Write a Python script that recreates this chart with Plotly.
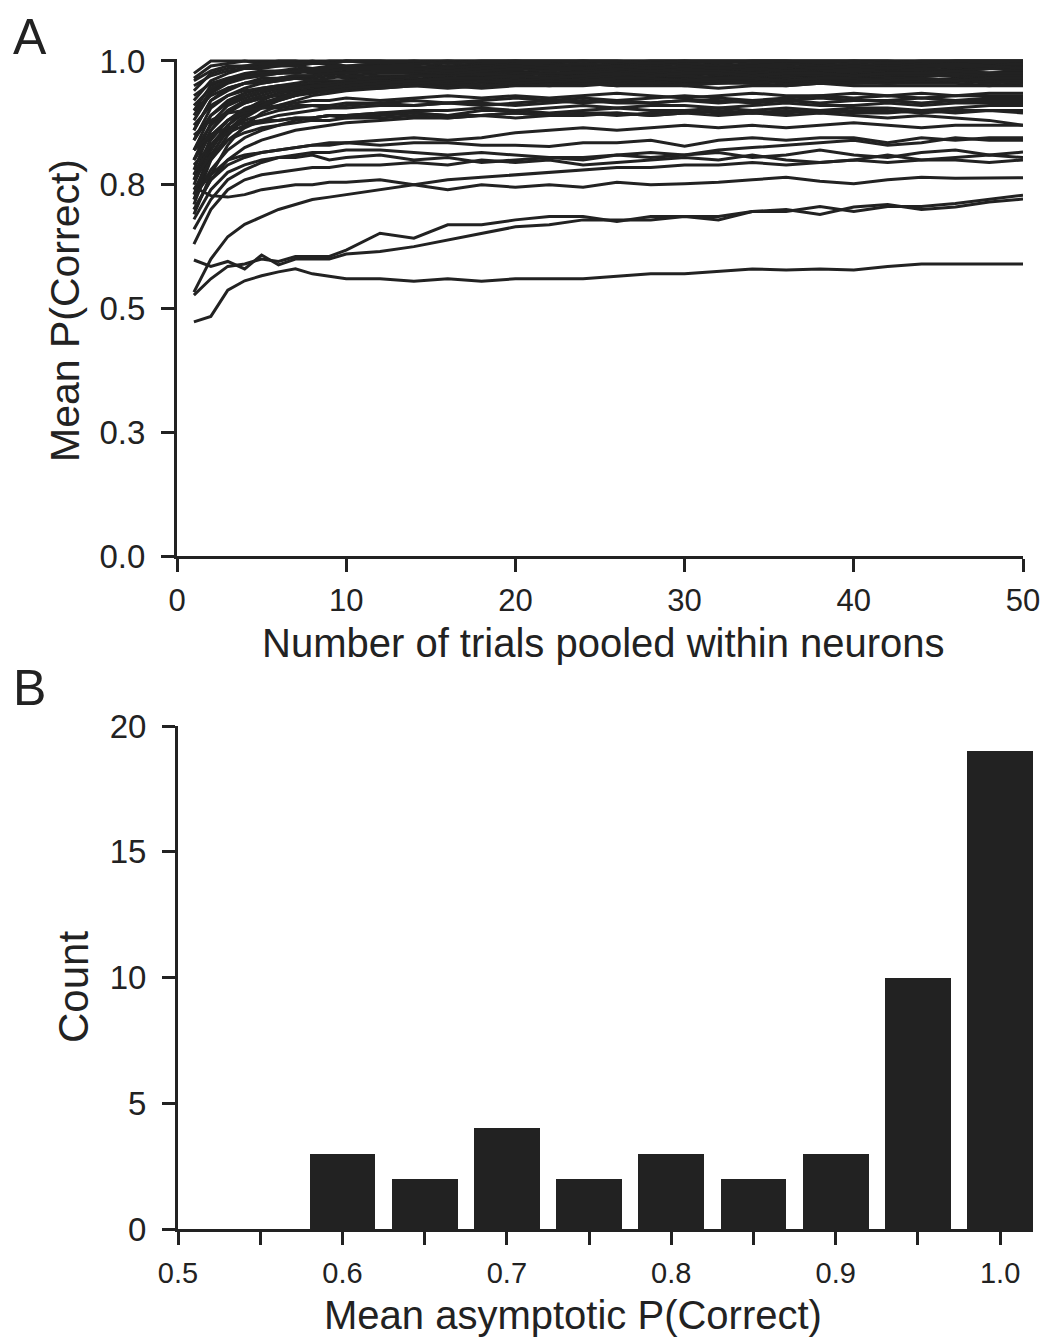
import plotly.graph_objects as go

# ---------------- Panel A data ----------------
X = [1, 2, 3, 4, 5, 6, 7, 8, 9, 10, 12, 14, 16, 18, 20, 22, 24, 26, 28, 30,
     32, 34, 36, 38, 40, 42, 44, 46, 48, 50]

t01 = [0.975, 1.0, 1.0, 1.0, 1.0, 1.0, 1.0, 1.0, 1.0, 1.0, 1.0, 1.0, 1.0, 1.0, 1.0, 1.0, 1.0, 1.0, 1.0, 1.0, 1.0, 1.0, 1.0, 1.0, 1.0, 1.0, 1.0, 1.0, 1.0, 1.0]
t02 = [0.965, 0.99, 0.995, 1.0, 0.995, 1.0, 1.0, 0.995, 1.0, 1.0, 1.0, 0.995, 1.0, 1.0, 1.0, 0.995, 1.0, 1.0, 1.0, 1.0, 0.995, 1.0, 1.0, 1.0, 1.0, 1.0, 0.995, 1.0, 1.0, 1.0]
t03 = [0.94, 0.975, 0.985, 0.99, 0.99, 0.995, 0.99, 0.995, 0.995, 0.99, 0.995, 0.995, 0.99, 0.995, 0.995, 0.995, 0.99, 0.995, 0.995, 0.995, 0.99, 0.995, 0.995, 0.995, 0.99, 0.995, 0.995, 0.995, 0.995, 0.995]
t04 = [0.92, 0.96, 0.975, 0.985, 0.985, 0.99, 0.99, 0.985, 0.99, 0.99, 0.99, 0.985, 0.99, 0.99, 0.985, 0.99, 0.99, 0.99, 0.985, 0.99, 0.99, 0.99, 0.985, 0.99, 0.99, 0.99, 0.99, 0.985, 0.99, 0.99]
t05 = [0.90, 0.95, 0.965, 0.975, 0.98, 0.98, 0.985, 0.98, 0.985, 0.985, 0.98, 0.985, 0.985, 0.98, 0.985, 0.985, 0.98, 0.985, 0.985, 0.985, 0.98, 0.985, 0.985, 0.98, 0.985, 0.985, 0.985, 0.98, 0.985, 0.985]
t06 = [0.88, 0.935, 0.955, 0.965, 0.97, 0.975, 0.975, 0.98, 0.975, 0.98, 0.98, 0.975, 0.98, 0.98, 0.98, 0.975, 0.98, 0.98, 0.975, 0.98, 0.98, 0.98, 0.98, 0.975, 0.98, 0.98, 0.98, 0.98, 0.975, 0.98]
t07 = [0.86, 0.92, 0.945, 0.955, 0.965, 0.965, 0.97, 0.97, 0.975, 0.97, 0.975, 0.975, 0.97, 0.975, 0.975, 0.975, 0.97, 0.975, 0.975, 0.975, 0.975, 0.97, 0.975, 0.975, 0.975, 0.97, 0.975, 0.975, 0.975, 0.975]
t08 = [0.84, 0.905, 0.93, 0.945, 0.955, 0.96, 0.965, 0.965, 0.97, 0.965, 0.97, 0.97, 0.965, 0.97, 0.97, 0.965, 0.97, 0.97, 0.97, 0.965, 0.97, 0.97, 0.97, 0.97, 0.965, 0.97, 0.97, 0.97, 0.97, 0.97]
t09 = [0.82, 0.89, 0.92, 0.935, 0.945, 0.95, 0.955, 0.96, 0.96, 0.96, 0.965, 0.96, 0.965, 0.965, 0.96, 0.965, 0.965, 0.965, 0.96, 0.965, 0.965, 0.96, 0.965, 0.965, 0.965, 0.965, 0.96, 0.965, 0.965, 0.965]
t10 = [0.80, 0.875, 0.91, 0.925, 0.935, 0.945, 0.95, 0.955, 0.955, 0.955, 0.96, 0.96, 0.955, 0.96, 0.96, 0.96, 0.955, 0.96, 0.96, 0.96, 0.96, 0.955, 0.96, 0.96, 0.96, 0.955, 0.96, 0.96, 0.96, 0.96]
t11 = [0.78, 0.86, 0.895, 0.915, 0.925, 0.935, 0.94, 0.945, 0.95, 0.95, 0.955, 0.955, 0.95, 0.955, 0.955, 0.955, 0.955, 0.95, 0.955, 0.955, 0.955, 0.955, 0.95, 0.955, 0.955, 0.955, 0.955, 0.955, 0.95, 0.955]
t12 = [0.76, 0.845, 0.88, 0.905, 0.915, 0.925, 0.93, 0.94, 0.94, 0.945, 0.95, 0.95, 0.95, 0.945, 0.95, 0.95, 0.955, 0.95, 0.95, 0.95, 0.945, 0.95, 0.95, 0.955, 0.95, 0.95, 0.95, 0.95, 0.95, 0.95]
t13 = [0.95, 0.97, 0.98, 0.985, 0.99, 0.99, 0.995, 0.995, 0.995, 1.0, 0.995, 1.0, 1.0, 0.995, 1.0, 1.0, 1.0, 0.995, 1.0, 1.0, 1.0, 1.0, 1.0, 0.995, 1.0, 1.0, 1.0, 1.0, 1.0, 1.0]
t14 = [0.93, 0.955, 0.965, 0.97, 0.975, 0.975, 0.98, 0.975, 0.98, 0.985, 0.985, 0.98, 0.99, 0.985, 0.985, 0.99, 0.985, 0.99, 0.99, 0.985, 0.99, 0.99, 0.99, 0.985, 0.99, 0.99, 0.99, 0.99, 0.985, 0.99]
t15 = [0.90, 0.93, 0.945, 0.955, 0.955, 0.96, 0.965, 0.96, 0.965, 0.97, 0.965, 0.97, 0.975, 0.97, 0.975, 0.975, 0.97, 0.98, 0.975, 0.975, 0.98, 0.975, 0.98, 0.98, 0.975, 0.98, 0.98, 0.98, 0.975, 0.98]
t16 = [0.87, 0.91, 0.93, 0.94, 0.945, 0.95, 0.95, 0.955, 0.955, 0.96, 0.96, 0.965, 0.96, 0.965, 0.97, 0.965, 0.97, 0.97, 0.965, 0.97, 0.975, 0.97, 0.97, 0.975, 0.97, 0.975, 0.975, 0.97, 0.975, 0.975]
t17 = [0.84, 0.89, 0.915, 0.93, 0.94, 0.945, 0.95, 0.95, 0.955, 0.955, 0.96, 0.955, 0.96, 0.96, 0.965, 0.96, 0.965, 0.965, 0.96, 0.965, 0.965, 0.97, 0.965, 0.965, 0.97, 0.965, 0.97, 0.97, 0.965, 0.97]
t18 = [0.73, 0.82, 0.87, 0.90, 0.92, 0.935, 0.945, 0.95, 0.955, 0.96, 0.965, 0.97, 0.97, 0.975, 0.97, 0.975, 0.975, 0.98, 0.975, 0.98, 0.98, 0.975, 0.98, 0.98, 0.98, 0.985, 0.98, 0.98, 0.985, 0.98]
t19 = [0.71, 0.80, 0.85, 0.885, 0.905, 0.92, 0.93, 0.94, 0.945, 0.95, 0.955, 0.96, 0.96, 0.965, 0.96, 0.965, 0.97, 0.965, 0.97, 0.97, 0.965, 0.97, 0.97, 0.975, 0.97, 0.97, 0.975, 0.97, 0.975, 0.975]
t20 = [0.89, 0.94, 0.96, 0.97, 0.975, 0.98, 0.98, 0.985, 0.985, 0.985, 0.99, 0.99, 0.985, 0.99, 0.99, 0.99, 0.995, 0.99, 0.99, 0.995, 0.99, 0.99, 0.995, 0.99, 0.995, 0.99, 0.99, 0.995, 0.99, 0.995]
t21 = [0.96, 0.98, 0.99, 0.99, 0.995, 0.995, 0.995, 1.0, 0.995, 1.0, 1.0, 1.0, 0.995, 1.0, 1.0, 1.0, 1.0, 1.0, 0.995, 1.0, 1.0, 1.0, 1.0, 1.0, 1.0, 0.995, 1.0, 1.0, 1.0, 1.0]
t22 = [0.82, 0.87, 0.90, 0.915, 0.925, 0.93, 0.935, 0.94, 0.94, 0.945, 0.945, 0.95, 0.945, 0.95, 0.955, 0.95, 0.95, 0.955, 0.955, 0.95, 0.955, 0.96, 0.955, 0.955, 0.96, 0.955, 0.96, 0.96, 0.955, 0.96]
t23 = [0.77, 0.84, 0.88, 0.90, 0.915, 0.925, 0.935, 0.94, 0.945, 0.95, 0.955, 0.96, 0.965, 0.96, 0.965, 0.97, 0.965, 0.97, 0.97, 0.97, 0.965, 0.97, 0.975, 0.97, 0.97, 0.975, 0.97, 0.975, 0.97, 0.97]
t24 = [0.69, 0.77, 0.83, 0.87, 0.895, 0.91, 0.92, 0.93, 0.935, 0.94, 0.945, 0.95, 0.955, 0.95, 0.955, 0.96, 0.955, 0.96, 0.955, 0.96, 0.96, 0.955, 0.96, 0.96, 0.955, 0.96, 0.96, 0.96, 0.96, 0.955]
t25 = [0.86, 0.92, 0.94, 0.955, 0.96, 0.965, 0.97, 0.97, 0.975, 0.975, 0.98, 0.98, 0.975, 0.98, 0.985, 0.98, 0.985, 0.985, 0.98, 0.985, 0.985, 0.985, 0.98, 0.985, 0.985, 0.985, 0.985, 0.98, 0.985, 0.985]
t26 = [0.75, 0.83, 0.87, 0.895, 0.91, 0.92, 0.93, 0.935, 0.94, 0.945, 0.95, 0.955, 0.955, 0.96, 0.955, 0.96, 0.96, 0.96, 0.965, 0.96, 0.96, 0.965, 0.96, 0.965, 0.96, 0.965, 0.965, 0.96, 0.965, 0.96]
t27 = [0.91, 0.945, 0.96, 0.97, 0.97, 0.975, 0.98, 0.98, 0.98, 0.985, 0.985, 0.985, 0.98, 0.985, 0.99, 0.985, 0.985, 0.99, 0.985, 0.99, 0.985, 0.99, 0.99, 0.985, 0.99, 0.985, 0.99, 0.99, 0.99, 0.985]
t28 = [0.80, 0.86, 0.90, 0.92, 0.93, 0.94, 0.945, 0.95, 0.95, 0.955, 0.96, 0.955, 0.96, 0.965, 0.96, 0.965, 0.96, 0.965, 0.965, 0.96, 0.965, 0.965, 0.96, 0.965, 0.965, 0.96, 0.965, 0.96, 0.965, 0.965]
t29 = [0.72, 0.81, 0.86, 0.89, 0.91, 0.925, 0.935, 0.94, 0.945, 0.95, 0.955, 0.96, 0.965, 0.965, 0.97, 0.965, 0.97, 0.975, 0.97, 0.975, 0.975, 0.97, 0.975, 0.975, 0.97, 0.975, 0.975, 0.98, 0.975, 0.975]

m01 = [0.80, 0.85, 0.88, 0.895, 0.905, 0.91, 0.915, 0.92, 0.92, 0.925, 0.92, 0.925, 0.93, 0.925, 0.93, 0.925, 0.93, 0.935, 0.93, 0.925, 0.93, 0.935, 0.93, 0.93, 0.935, 0.93, 0.935, 0.93, 0.935, 0.935]
m02 = [0.77, 0.83, 0.86, 0.88, 0.89, 0.90, 0.905, 0.91, 0.91, 0.915, 0.915, 0.92, 0.915, 0.92, 0.925, 0.92, 0.925, 0.92, 0.925, 0.93, 0.925, 0.92, 0.925, 0.93, 0.925, 0.93, 0.925, 0.93, 0.93, 0.93]
m03 = [0.74, 0.80, 0.84, 0.865, 0.88, 0.89, 0.895, 0.90, 0.905, 0.905, 0.91, 0.91, 0.915, 0.91, 0.915, 0.92, 0.915, 0.92, 0.915, 0.92, 0.92, 0.915, 0.92, 0.925, 0.92, 0.92, 0.925, 0.92, 0.925, 0.925]
m04 = [0.85, 0.88, 0.895, 0.90, 0.905, 0.905, 0.91, 0.91, 0.905, 0.91, 0.915, 0.91, 0.915, 0.915, 0.91, 0.915, 0.92, 0.915, 0.915, 0.92, 0.915, 0.92, 0.92, 0.915, 0.92, 0.92, 0.915, 0.92, 0.92, 0.92]
m05 = [0.72, 0.78, 0.82, 0.845, 0.86, 0.87, 0.88, 0.885, 0.89, 0.89, 0.895, 0.90, 0.90, 0.905, 0.90, 0.905, 0.91, 0.905, 0.91, 0.91, 0.905, 0.91, 0.915, 0.91, 0.91, 0.915, 0.91, 0.915, 0.915, 0.915]
m06 = [0.79, 0.83, 0.855, 0.87, 0.875, 0.88, 0.885, 0.885, 0.89, 0.89, 0.895, 0.895, 0.89, 0.90, 0.90, 0.895, 0.90, 0.905, 0.90, 0.90, 0.905, 0.90, 0.905, 0.90, 0.905, 0.905, 0.90, 0.905, 0.91, 0.91]
m07 = [0.70, 0.76, 0.80, 0.825, 0.84, 0.85, 0.86, 0.865, 0.87, 0.875, 0.88, 0.885, 0.885, 0.89, 0.885, 0.89, 0.895, 0.89, 0.895, 0.90, 0.895, 0.895, 0.90, 0.895, 0.90, 0.90, 0.895, 0.90, 0.90, 0.90]
m08 = [0.82, 0.85, 0.865, 0.875, 0.88, 0.88, 0.885, 0.885, 0.89, 0.885, 0.89, 0.895, 0.89, 0.89, 0.895, 0.89, 0.895, 0.895, 0.89, 0.895, 0.90, 0.895, 0.895, 0.90, 0.895, 0.895, 0.90, 0.895, 0.90, 0.895]
m09 = [0.76, 0.81, 0.84, 0.855, 0.865, 0.87, 0.875, 0.88, 0.88, 0.885, 0.885, 0.89, 0.885, 0.89, 0.895, 0.89, 0.89, 0.895, 0.89, 0.895, 0.89, 0.895, 0.89, 0.895, 0.89, 0.885, 0.89, 0.885, 0.88, 0.87]

n01 = [0.70, 0.76, 0.79, 0.805, 0.815, 0.82, 0.825, 0.83, 0.83, 0.835, 0.83, 0.835, 0.835, 0.83, 0.83, 0.827, 0.835, 0.835, 0.84, 0.828, 0.84, 0.845, 0.84, 0.845, 0.845, 0.835, 0.845, 0.84, 0.845, 0.845]
n02 = [0.66, 0.72, 0.76, 0.78, 0.795, 0.805, 0.81, 0.815, 0.815, 0.82, 0.82, 0.815, 0.81, 0.815, 0.81, 0.805, 0.805, 0.81, 0.815, 0.81, 0.82, 0.825, 0.83, 0.835, 0.84, 0.83, 0.835, 0.845, 0.84, 0.84]
n03 = [0.68, 0.74, 0.775, 0.79, 0.80, 0.805, 0.805, 0.81, 0.80, 0.805, 0.81, 0.80, 0.805, 0.795, 0.80, 0.805, 0.80, 0.81, 0.805, 0.81, 0.815, 0.805, 0.81, 0.82, 0.81, 0.805, 0.815, 0.82, 0.81, 0.816]
n04 = [0.63, 0.70, 0.74, 0.76, 0.77, 0.775, 0.78, 0.785, 0.785, 0.79, 0.79, 0.795, 0.79, 0.80, 0.795, 0.80, 0.79, 0.795, 0.80, 0.805, 0.80, 0.81, 0.80, 0.795, 0.80, 0.81, 0.80, 0.805, 0.81, 0.805]
n05 = [0.533, 0.60, 0.645, 0.67, 0.685, 0.70, 0.71, 0.72, 0.725, 0.73, 0.74, 0.75, 0.76, 0.765, 0.77, 0.775, 0.78, 0.785, 0.785, 0.79, 0.79, 0.795, 0.79, 0.795, 0.80, 0.795, 0.80, 0.80, 0.795, 0.80]
n06 = [0.73, 0.77, 0.80, 0.81, 0.815, 0.82, 0.825, 0.83, 0.835, 0.835, 0.84, 0.845, 0.84, 0.845, 0.855, 0.86, 0.865, 0.86, 0.865, 0.87, 0.865, 0.87, 0.865, 0.87, 0.875, 0.87, 0.865, 0.87, 0.87, 0.87]

c01 = [0.745, 0.728, 0.725, 0.73, 0.74, 0.745, 0.75, 0.75, 0.755, 0.755, 0.76, 0.75, 0.74, 0.75, 0.745, 0.75, 0.745, 0.755, 0.75, 0.752, 0.755, 0.76, 0.765, 0.757, 0.752, 0.76, 0.765, 0.763, 0.764, 0.764]
a01 = [0.527, 0.56, 0.585, 0.59, 0.60, 0.595, 0.605, 0.605, 0.605, 0.618, 0.652, 0.642, 0.669, 0.669, 0.679, 0.686, 0.686, 0.676, 0.686, 0.686, 0.686, 0.696, 0.696, 0.706, 0.696, 0.706, 0.706, 0.712, 0.72, 0.729]
b01 = [0.598, 0.585, 0.595, 0.58, 0.608, 0.588, 0.60, 0.60, 0.60, 0.61, 0.615, 0.625, 0.638, 0.652, 0.665, 0.669, 0.679, 0.679, 0.679, 0.686, 0.679, 0.696, 0.70, 0.69, 0.705, 0.71, 0.70, 0.705, 0.715, 0.721]
q01 = [0.473, 0.484, 0.537, 0.556, 0.566, 0.574, 0.58, 0.57, 0.565, 0.56, 0.56, 0.555, 0.56, 0.555, 0.56, 0.56, 0.56, 0.565, 0.57, 0.57, 0.575, 0.58, 0.578, 0.58, 0.578, 0.585, 0.59, 0.59, 0.59, 0.59]

ALL_LINES = [t01, t02, t03, t04, t05, t06, t07, t08, t09, t10, t11, t12, t13, t14,
             t15, t16, t17, t18, t19, t20, t21, t22, t23, t24, t25, t26, t27, t28,
             t29, m01, m02, m03, m04, m05, m06, m07, m08, m09, n01, n02, n03, n04,
             n05, n06, c01, a01, b01, q01]

A_YTICKS = [0.0, 0.25, 0.5, 0.75, 1.0]
A_YTICKTEXT = ["0.0", "0.3", "0.5", "0.8", "1.0"]
A_XTICKS = [0, 10, 20, 30, 40, 50]

# ---------------- Panel B data ----------------
BIN_CENTERS = [0.50, 0.55, 0.60, 0.65, 0.70, 0.75, 0.80, 0.85, 0.90, 0.95, 1.00]
COUNTS = [0, 0, 3, 2, 4, 2, 3, 2, 3, 10, 19]
B_XTICKS = [0.5, 0.55, 0.6, 0.65, 0.7, 0.75, 0.8, 0.85, 0.9, 0.95, 1.0]
B_XTICKTEXT = ["0.5", "", "0.6", "", "0.7", "", "0.8", "", "0.9", "", "1.0"]
B_YTICKS = [0, 5, 10, 15, 20]

# ---------------- Figure ----------------
W, H = 1050, 1337
INK = "#222222"
FONT = "Liberation Sans, Arial, Helvetica, sans-serif"

fig = go.Figure()
for ys in ALL_LINES:
    fig.add_trace(go.Scatter(x=X, y=ys, mode="lines",
                             line=dict(color=INK, width=3),
                             showlegend=False, hoverinfo="skip",
                             xaxis="x", yaxis="y"))

fig.add_trace(go.Bar(x=BIN_CENTERS, y=COUNTS, width=0.04,
                     marker=dict(color=INK, line=dict(width=0)),
                     showlegend=False, hoverinfo="skip",
                     xaxis="x2", yaxis="y2"))


def axis_style(size):
    return dict(showgrid=False, zeroline=False, showline=True,
                linecolor=INK, linewidth=3, ticks="outside",
                ticklen=13, tickwidth=3, tickcolor=INK, automargin=False,
                tickfont=dict(family=FONT, size=size, color=INK))


fig.update_layout(
    template="none",
    width=W, height=H,
    margin=dict(l=0, r=0, t=0, b=0, pad=0, autoexpand=False),
    paper_bgcolor="white", plot_bgcolor="white",
    showlegend=False,
    xaxis=dict(domain=[177 / W, 1023 / W], range=[0, 50],
               tickvals=A_XTICKS, anchor="y", ticklabelstandoff=2,
               **axis_style(31)),
    yaxis=dict(domain=[1 - 556 / H, 1 - 58.5 / H], range=[0, 1.005],
               tickvals=A_YTICKS, ticktext=A_YTICKTEXT, anchor="x",
               ticklabelstandoff=9, **axis_style(33)),
    xaxis2=dict(domain=[178 / W, 1033 / W], range=[0.5, 1.02],
                tickvals=B_XTICKS, ticktext=B_XTICKTEXT, anchor="y2",
                ticklabelstandoff=3, **axis_style(29)),
    yaxis2=dict(domain=[1 - 1229 / H, 1 - 726 / H], range=[0, 20],
                tickvals=B_YTICKS, anchor="x2", ticklabelstandoff=9,
                **axis_style(33)),
    bargap=0,
)

ann_font = dict(family=FONT, color=INK)
annotations = [
    dict(text="A", x=11 / W, y=1 - 37 / H, xanchor="left", yanchor="middle",
         font=dict(size=50, **ann_font)),
    dict(text="B", x=11 / W, y=1 - 688 / H, xanchor="left", yanchor="middle",
         font=dict(size=50, **ann_font)),
    dict(text="Mean P(Correct)", x=65 / W, y=1 - 311 / H, textangle=-90,
         xanchor="center", yanchor="middle", font=dict(size=41, **ann_font)),
    dict(text="Number of trials pooled within neurons", x=603 / W, y=1 - 643 / H,
         xanchor="center", yanchor="middle", font=dict(size=40, **ann_font)),
    dict(text="Count", x=74 / W, y=1 - 987 / H, textangle=-90,
         xanchor="center", yanchor="middle", font=dict(size=42, **ann_font)),
    dict(text="Mean asymptotic P(Correct)", x=573 / W, y=1 - 1315 / H,
         xanchor="center", yanchor="middle", font=dict(size=40, **ann_font)),
]
for a in annotations:
    a.update(xref="paper", yref="paper", showarrow=False)
fig.update_layout(annotations=annotations)

fig.write_html("out.html")
